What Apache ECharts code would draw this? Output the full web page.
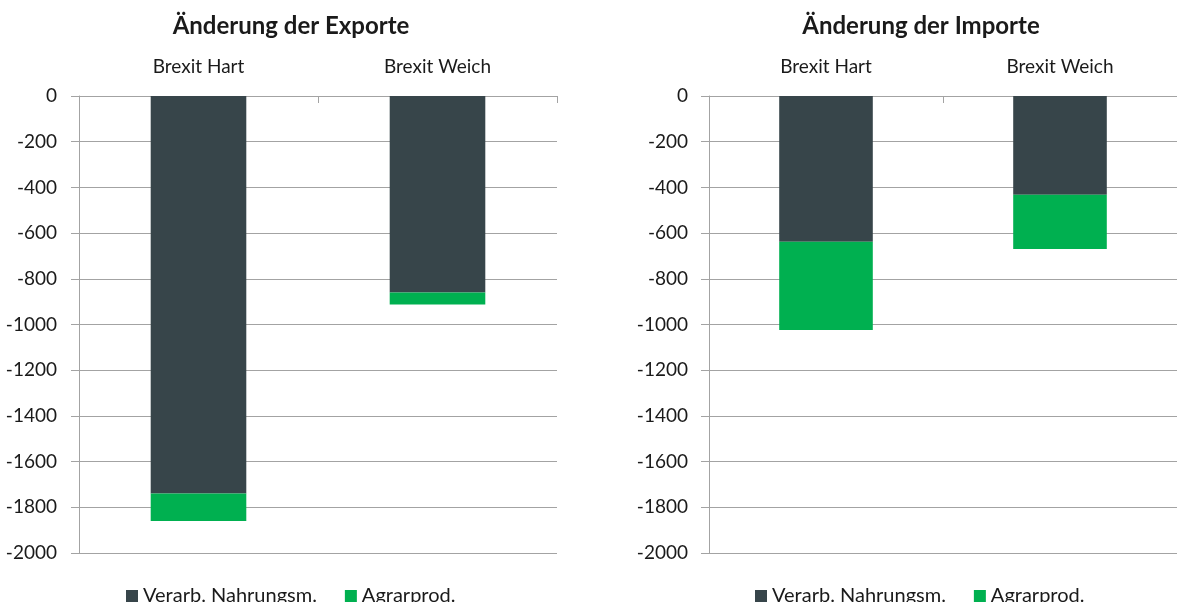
<!DOCTYPE html>
<html>
<head>
<meta charset="utf-8">
<script src="https://cdn.jsdelivr.net/npm/echarts@6/dist/echarts.min.js"></script>
<style>
html,body{margin:0;padding:0;background:#fff;}
#c{width:1177px;height:602px;}
</style>
</head>
<body>
<div id="c"></div>
<script>
const categories = ['Brexit Hart', 'Brexit Weich'];
const seriesNames = ['Verarb. Nahrungsm.', 'Agrarprod.'];
const exportVerarb = [-1740, -860];
const exportAgrar = [-120, -53];
const importVerarb = [-638, -432];
const importAgrar = [-386, -238];
const chartTitles = ['Änderung der Exporte', 'Änderung der Importe'];
const yMin = -2000, yMax = 0, yStep = 200;

const FONT = 'Lato, "Open Sans", sans-serif';
const DARK = '#37454a';
const GREEN = '#00b050';
const GRIDC = '#a3a3a3';
const TXT = '#1a1a1a';

const grids = [
  {left: 79, top: 96, width: 478, height: 457},
  {left: 709, top: 96, width: 479, height: 457}
];

function xAx(i) {
  return {
    type: 'category', gridIndex: i, data: categories, position: 'top',
    axisLine: {show: true, lineStyle: {color: GRIDC, width: 1}},
    axisTick: {show: true, inside: true, length: 7, alignWithLabel: false, lineStyle: {color: GRIDC}},
    axisLabel: {color: TXT, fontFamily: FONT, fontSize: 19, margin: 20}
  };
}
function yAx(i, m) {
  return {
    type: 'value', gridIndex: i, min: yMin, max: yMax, interval: yStep,
    axisLine: {show: true, lineStyle: {color: GRIDC, width: 1}},
    axisTick: {show: true, length: 8, lineStyle: {color: GRIDC}},
    axisLabel: {color: TXT, fontFamily: FONT, fontSize: 19, margin: m,
                formatter: function (v) { return String(v); }},
    splitLine: {show: true, lineStyle: {color: GRIDC, width: 1}}
  };
}
function bar(name, data, idx, color) {
  return {
    type: 'bar', name: name, data: data, stack: 's' + idx,
    xAxisIndex: idx, yAxisIndex: idx, barWidth: '40%',
    itemStyle: {color: color}, animation: false
  };
}

const chart = echarts.init(document.getElementById('c'), null, {renderer: 'canvas'});
chart.setOption({
  animation: false,
  backgroundColor: '#fff',
  title: [
    {text: chartTitles[0], left: 286, top: 9, textAlign: 'center',
     textStyle: {fontFamily: FONT, fontSize: 24, fontWeight: 'bold', color: TXT}},
    {text: chartTitles[1], left: 916, top: 9, textAlign: 'center',
     textStyle: {fontFamily: FONT, fontSize: 24, fontWeight: 'bold', color: TXT}}
  ],
  legend: [
    {left: 121, top: 581, icon: 'rect', itemWidth: 12, itemHeight: 12, itemGap: 28,
     data: seriesNames, textStyle: {fontFamily: FONT, fontSize: 20, color: TXT}},
    {left: 750, top: 581, icon: 'rect', itemWidth: 12, itemHeight: 12, itemGap: 28,
     data: seriesNames, textStyle: {fontFamily: FONT, fontSize: 20, color: TXT}}
  ],
  grid: grids,
  xAxis: [xAx(0), xAx(1)],
  yAxis: [yAx(0, 22), yAx(1, 21)],
  series: [
    bar(seriesNames[0], exportVerarb, 0, DARK),
    bar(seriesNames[1], exportAgrar, 0, GREEN),
    bar(seriesNames[0], importVerarb, 1, DARK),
    bar(seriesNames[1], importAgrar, 1, GREEN)
  ]
});
</script>
</body>
</html>
